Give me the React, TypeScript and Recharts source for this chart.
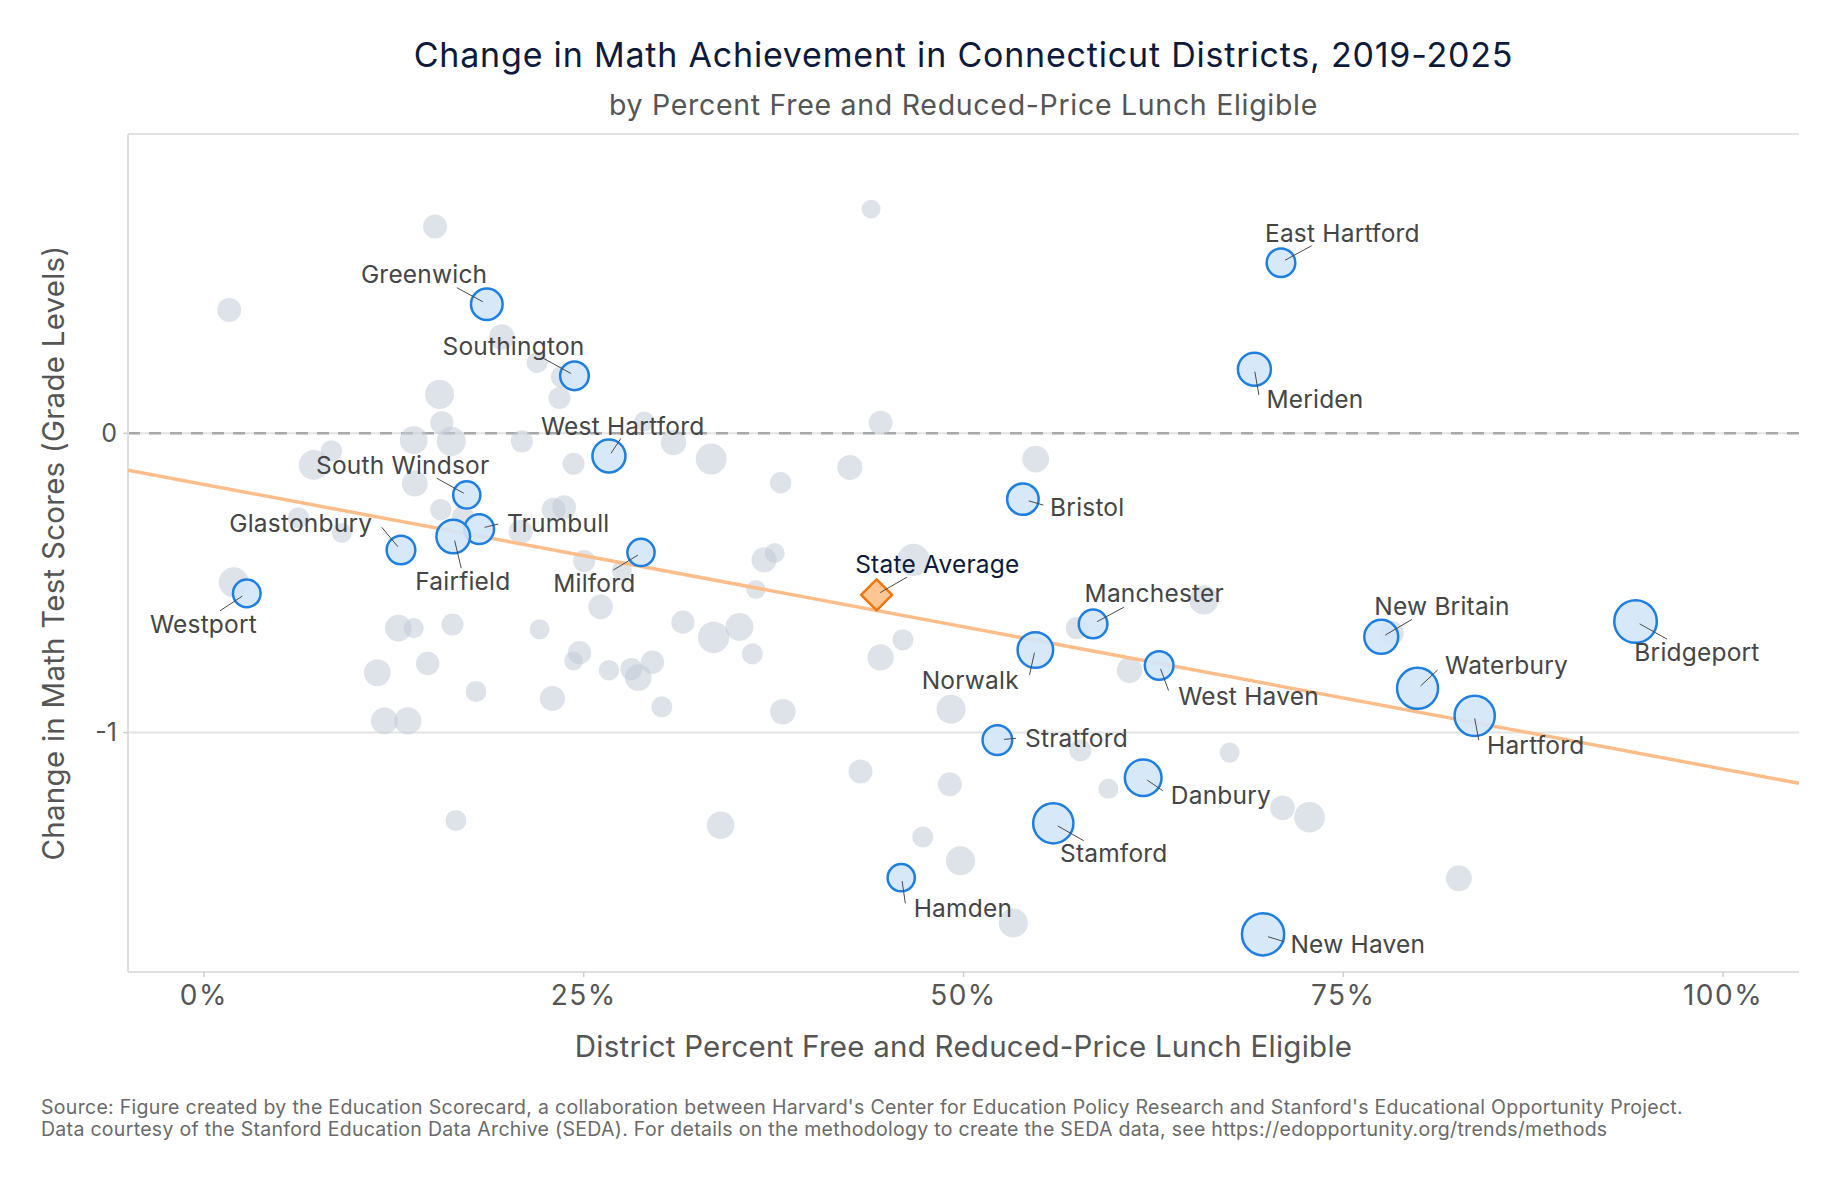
import React from 'react';
import { ScatterChart, Scatter, XAxis, YAxis, ZAxis, CartesianGrid, ReferenceLine } from 'recharts';

const FONT = 'Inter, "Noto Sans", "DejaVu Sans", sans-serif';

// ---------- DATA ----------
// Highlighted districts: % free/reduced lunch, change in grade levels, enrollment (thousands)
const districtNames = ['Greenwich', 'Southington', 'West Hartford', 'South Windsor', 'Glastonbury', 'Trumbull', 'Fairfield', 'Milford', 'Westport', 'Bristol', 'Meriden', 'East Hartford', 'Manchester', 'Norwalk', 'West Haven', 'Stratford', 'Danbury', 'Stamford', 'Hamden', 'New Haven', 'New Britain', 'Waterbury', 'Hartford', 'Bridgeport'];
const districtFrl = [18.62, 24.39, 26.66, 17.30, 12.97, 18.12, 16.41, 28.77, 2.82, 53.91, 69.15, 70.90, 58.53, 54.73, 62.88, 52.23, 61.83, 55.91, 45.90, 69.72, 77.50, 79.89, 83.65, 94.24];
const districtChange = [0.431, 0.192, -0.076, -0.206, -0.390, -0.320, -0.345, -0.398, -0.535, -0.220, 0.214, 0.570, -0.637, -0.724, -0.776, -1.025, -1.151, -1.303, -1.485, -1.674, -0.680, -0.852, -0.944, -0.629];
const districtEnroll = [10.7, 8.9, 11.6, 8.1, 8.9, 9.5, 12.0, 8.1, 8.3, 10.6, 11.6, 8.9, 8.9, 13.3, 8.9, 9.5, 14.1, 16.8, 8.1, 18.4, 12.2, 17.4, 16.8, 18.7];

// Other Connecticut districts
const otherFrl = [1.66, 15.21, 43.92, 19.61, 21.93, 23.56, 23.40, 15.51, 15.66, 13.81, 16.28, 8.39, 7.23, 13.88, 20.93, 24.33, 28.98, 30.91, 33.39, 37.96, 42.52, 44.54, 54.75, 15.59, 23.02, 23.71, 6.22, 9.08, 20.85, 36.87, 37.57, 36.33, 46.70, 1.96, 65.82, 25.03, 27.51, 26.11, 31.53, 33.55, 35.25, 36.10, 12.80, 13.81, 16.36, 22.09, 11.41, 14.73, 17.91, 24.72, 24.33, 26.66, 28.13, 28.59, 29.52, 22.94, 30.14, 11.87, 13.42, 16.59, 38.11, 44.54, 46.01, 49.18, 57.45, 60.93, 57.69, 67.52, 43.22, 49.10, 59.54, 71.00, 34.01, 47.32, 49.80, 53.28, 72.78, 78.20, 82.61, 17.06];
const otherChange = [0.412, 0.691, 0.749, 0.322, 0.236, 0.188, 0.118, 0.130, 0.035, -0.023, -0.027, -0.059, -0.106, -0.168, -0.027, -0.102, 0.039, -0.031, -0.086, -0.165, -0.114, 0.035, -0.086, -0.255, -0.255, -0.247, -0.282, -0.333, -0.329, -0.423, -0.400, -0.522, -0.423, -0.498, -0.557, -0.427, -0.459, -0.580, -0.631, -0.682, -0.647, -0.737, -0.651, -0.651, -0.639, -0.655, -0.800, -0.769, -0.863, -0.733, -0.761, -0.792, -0.788, -0.816, -0.765, -0.886, -0.914, -0.961, -0.961, -1.294, -0.930, -0.749, -0.690, -0.922, -0.651, -0.792, -1.059, -1.067, -1.130, -1.173, -1.188, -1.251, -1.310, -1.349, -1.428, -1.636, -1.283, -0.667, -1.487, -0.278];
const otherEnroll = [5.3, 5.3, 3.3, 6.0, 4.1, 4.5, 4.5, 7.8, 5.0, 7.2, 7.8, 4.2, 8.3, 6.2, 4.5, 4.5, 3.7, 6.0, 8.8, 4.2, 5.8, 5.3, 6.6, 4.2, 5.3, 5.3, 4.1, 3.7, 5.3, 5.8, 3.7, 3.4, 9.5, 8.3, 7.8, 4.5, 3.7, 5.6, 5.0, 9.0, 7.2, 4.1, 6.6, 3.7, 4.5, 3.7, 6.6, 5.1, 4.1, 5.0, 3.3, 3.9, 4.5, 6.6, 5.1, 5.8, 4.1, 6.6, 6.8, 4.1, 6.0, 6.4, 4.1, 7.8, 4.5, 6.0, 4.5, 3.7, 5.3, 5.3, 3.7, 5.6, 7.0, 4.1, 7.8, 7.8, 8.7, 5.3, 6.2, 4.5];

const stateAvgFrl = 44.28;
const stateAvgChange = -0.54;

// Fitted trend line (change = intercept + slope * pct)
const trendIntercept = -0.171;
const trendSlope = -0.00951;

const xTicks = [0, 25, 50, 75, 100];
const yTicks = [-1, 0];
const xDomain = [-5, 105];
const yDomain = [-1.8, 1.0];

// ---------- LABEL LAYOUT (pixel offsets from the point) ----------
type Lay = { a: 'start' | 'end'; dx: number; dy: number; l: [number, number, number, number] };
const labelLayout: Record<string, Lay> = {
  'Greenwich': { a: 'end', dx: 0.5, dy: -21, l: [-4, -2.6, -30, -16.6] },
  'Southington': { a: 'end', dx: 10, dy: -20.7, l: [-3.6, -2.4, -32.6, -18.4] },
  'West Hartford': { a: 'start', dx: -68, dy: -21, l: [2, -2.7, 12, -17.7] },
  'South Windsor': { a: 'end', dx: 22.6, dy: -21, l: [-3, -1.7, -30, -16.7] },
  'Glastonbury': { a: 'end', dx: -28.8, dy: -18.3, l: [-3.1, -3.3, -19.2, -22.7] },
  'Trumbull': { a: 'start', dx: 27.7, dy: 2.7, l: [5.4, -1.7, 19, -5] },
  'Fairfield': { a: 'start', dx: -38, dy: 53.3, l: [1.4, 4, 8, 31.6] },
  'Milford': { a: 'end', dx: -5.5, dy: 39.4, l: [-3.1, 2.7, -27.7, 17.7] },
  'Westport': { a: 'end', dx: 10.2, dy: 40, l: [-4.5, 2.7, -26.8, 17.4] },
  'Bristol': { a: 'start', dx: 27.2, dy: 16.7, l: [5.8, 1.7, 20.5, 6] },
  'Meriden': { a: 'start', dx: 12, dy: 39, l: [0.4, 2.4, 4.5, 25.7] },
  'East Hartford': { a: 'start', dx: -16, dy: -21, l: [4, -2.4, 30.7, -17] },
  'Manchester': { a: 'start', dx: -8.5, dy: -21.7, l: [4, -2.3, 30.8, -16.7] },
  'Norwalk': { a: 'end', dx: -16.5, dy: 39.3, l: [-0.9, 2.7, -5.8, 25] },
  'West Haven': { a: 'start', dx: 19, dy: 39.3, l: [1.4, 3.3, 9.4, 25] },
  'Stratford': { a: 'start', dx: 27.7, dy: 7.3, l: [6.7, -0.7, 18.7, -1.7] },
  'Danbury': { a: 'start', dx: 27.6, dy: 26.3, l: [4, 2.3, 19.6, 13] },
  'Stamford': { a: 'start', dx: 6.7, dy: 39, l: [4.5, 2.7, 30.4, 17.4] },
  'Hamden': { a: 'start', dx: 12.5, dy: 39.6, l: [0.9, 3.3, 4.1, 25.6] },
  'New Haven': { a: 'start', dx: 27.4, dy: 18.4, l: [4.9, 2.4, 21.2, 7.4] },
  'New Britain': { a: 'start', dx: -6.9, dy: -21.7, l: [4, -1.7, 30.7, -17.4] },
  'Waterbury': { a: 'start', dx: 27.5, dy: -14.3, l: [3, -2.3, 20.1, -18.3] },
  'Hartford': { a: 'start', dx: 12.3, dy: 38.6, l: [0, 2.6, 4.1, 24.3] },
  'Bridgeport': { a: 'start', dx: -1.2, dy: 39.3, l: [4.1, 2.3, 31.5, 17.6] },
  'State Average': { a: 'start', dx: -21.4, dy: -21.7, l: [3.6, -2.3, 30.3, -17.7] },
};

// ---------- BUILD TABLES ----------
const highlighted = districtNames.map((name, i) => ({ name, x: districtFrl[i], y: districtChange[i], z: districtEnroll[i] }));
const others = otherFrl.map((x, i) => ({ x, y: otherChange[i], z: otherEnroll[i] }));
const stateAvg = [{ name: 'State Average', x: stateAvgFrl, y: stateAvgChange }];
const trend = [xDomain[0], xDomain[1]].map((x) => ({ x, y: trendIntercept + trendSlope * x }));

const radiusOf = (p: any) => (p.width ? p.width / 2 : Math.sqrt((p.size || 64) / Math.PI));

const GreyDot = (p: any) => (
  <circle cx={p.cx} cy={p.cy} r={radiusOf(p)} fill="#c4ccd8" fillOpacity={0.56} />
);

const BlueDot = (p: any) => (
  <circle cx={p.cx} cy={p.cy} r={radiusOf(p) - 1.2} fill="#d3e5f8" fillOpacity={0.9} stroke="#1f7fe0" strokeWidth={2.5} />
);

const Diamond = (p: any) => {
  const s = 15.5;
  const { cx, cy } = p;
  return (
    <polygon
      points={`${cx},${cy - s} ${cx + s},${cy} ${cx},${cy + s} ${cx - s},${cy}`}
      fill="#fdc693"
      stroke="#f2760f"
      strokeWidth={2.6}
      strokeLinejoin="round"
    />
  );
};

const makeLabel = (color: string) => (p: any) => {
  const lay = labelLayout[p.payload?.name];
  if (!lay) return <g />;
  const { cx, cy } = p;
  return (
    <g>
      <line x1={cx + lay.l[0]} y1={cy + lay.l[1]} x2={cx + lay.l[2]} y2={cy + lay.l[3]} stroke="#4a4a4a" strokeWidth={1} />
      <text x={cx + lay.dx} y={cy + lay.dy} textAnchor={lay.a} fontFamily={FONT} fontSize={24.5} letterSpacing={0.2} fill={color}>
        {p.payload.name}
      </text>
    </g>
  );
};
const DistrictLabel = makeLabel('#454545');
const StateLabel = makeLabel('#0d1a3a');

const Empty = () => <g />;

export default function App() {
  return (
    <div style={{ position: 'absolute', left: 0, top: 0, width: 1841, height: 1182, background: '#fff' }}>
      <ScatterChart width={1841} height={1182} margin={{ top: 134, right: 42, bottom: 150, left: 48 }}>
        <CartesianGrid vertical={false} stroke="#e3e3e3" strokeWidth={2} />
        <XAxis
          type="number"
          dataKey="x"
          domain={xDomain}
          ticks={xTicks}
          allowDataOverflow
          tickFormatter={(v: number) => `${v}%`}
          height={60}
          axisLine={{ stroke: '#dedede', strokeWidth: 2 }}
          tickLine={{ stroke: '#cfcfcf', strokeWidth: 1.5 }}
          tickSize={5}
          tickMargin={8}
          tick={{ fontFamily: FONT, fontSize: 28, fill: '#555', letterSpacing: 1.5 }}
        />
        <YAxis
          type="number"
          dataKey="y"
          domain={yDomain}
          ticks={yTicks}
          allowDataOverflow
          width={80}
          axisLine={{ stroke: '#dedede', strokeWidth: 2 }}
          tickLine={{ stroke: '#cfcfcf', strokeWidth: 1.5 }}
          tickSize={5}
          tickMargin={6}
          tick={{ fontFamily: FONT, fontSize: 25, fill: '#555' }}
        />
        <ZAxis type="number" dataKey="z" domain={[0, 20]} range={[0, 1700]} />
        <ReferenceLine y={0} stroke="#a8a8a8" strokeWidth={2.5} strokeDasharray="12 9" />
        <Scatter data={others} shape={GreyDot} isAnimationActive={false} />
        <Scatter data={trend} line={{ stroke: '#fdbd8a', strokeWidth: 3.5 }} shape={Empty} isAnimationActive={false} />
        <Scatter data={highlighted} shape={BlueDot} isAnimationActive={false} />
        <Scatter data={stateAvg} shape={Diamond} isAnimationActive={false} />
        <Scatter data={highlighted} shape={DistrictLabel} isAnimationActive={false} />
        <Scatter data={stateAvg} shape={StateLabel} isAnimationActive={false} />
      </ScatterChart>
      <svg width={1841} height={1182} style={{ position: 'absolute', left: 0, top: 0, pointerEvents: 'none' }}>
        <text x={963.5} y={66.5} textAnchor="middle" fontFamily={FONT} fontSize={34} letterSpacing={0.8} fill="#0d1a3a">
          Change in Math Achievement in Connecticut Districts, 2019-2025
        </text>
        <text x={963.5} y={115} textAnchor="middle" fontFamily={FONT} fontSize={28.5} letterSpacing={0.7} fill="#555">
          by Percent Free and Reduced-Price Lunch Eligible
        </text>
        <text x={963.5} y={1056.5} textAnchor="middle" fontFamily={FONT} fontSize={29.5} letterSpacing={0.25} fill="#555">
          District Percent Free and Reduced-Price Lunch Eligible
        </text>
        <text x={0} y={0} transform="translate(63.5,553) rotate(-90)" textAnchor="middle" fontFamily={FONT} fontSize={29.5} letterSpacing={0.25} fill="#555">
          Change in Math Test Scores (Grade Levels)
        </text>
        <text x={41} y={1114} fontFamily={FONT} fontSize={19.5} letterSpacing={0.3} fill="#6a6a6a">
          Source: Figure created by the Education Scorecard, a collaboration between Harvard's Center for Education Policy Research and Stanford's Educational Opportunity Project.
        </text>
        <text x={41} y={1136} fontFamily={FONT} fontSize={19.5} letterSpacing={0.3} fill="#6a6a6a">
          Data courtesy of the Stanford Education Data Archive (SEDA). For details on the methodology to create the SEDA data, see https://edopportunity.org/trends/methods
        </text>
      </svg>
    </div>
  );
}
